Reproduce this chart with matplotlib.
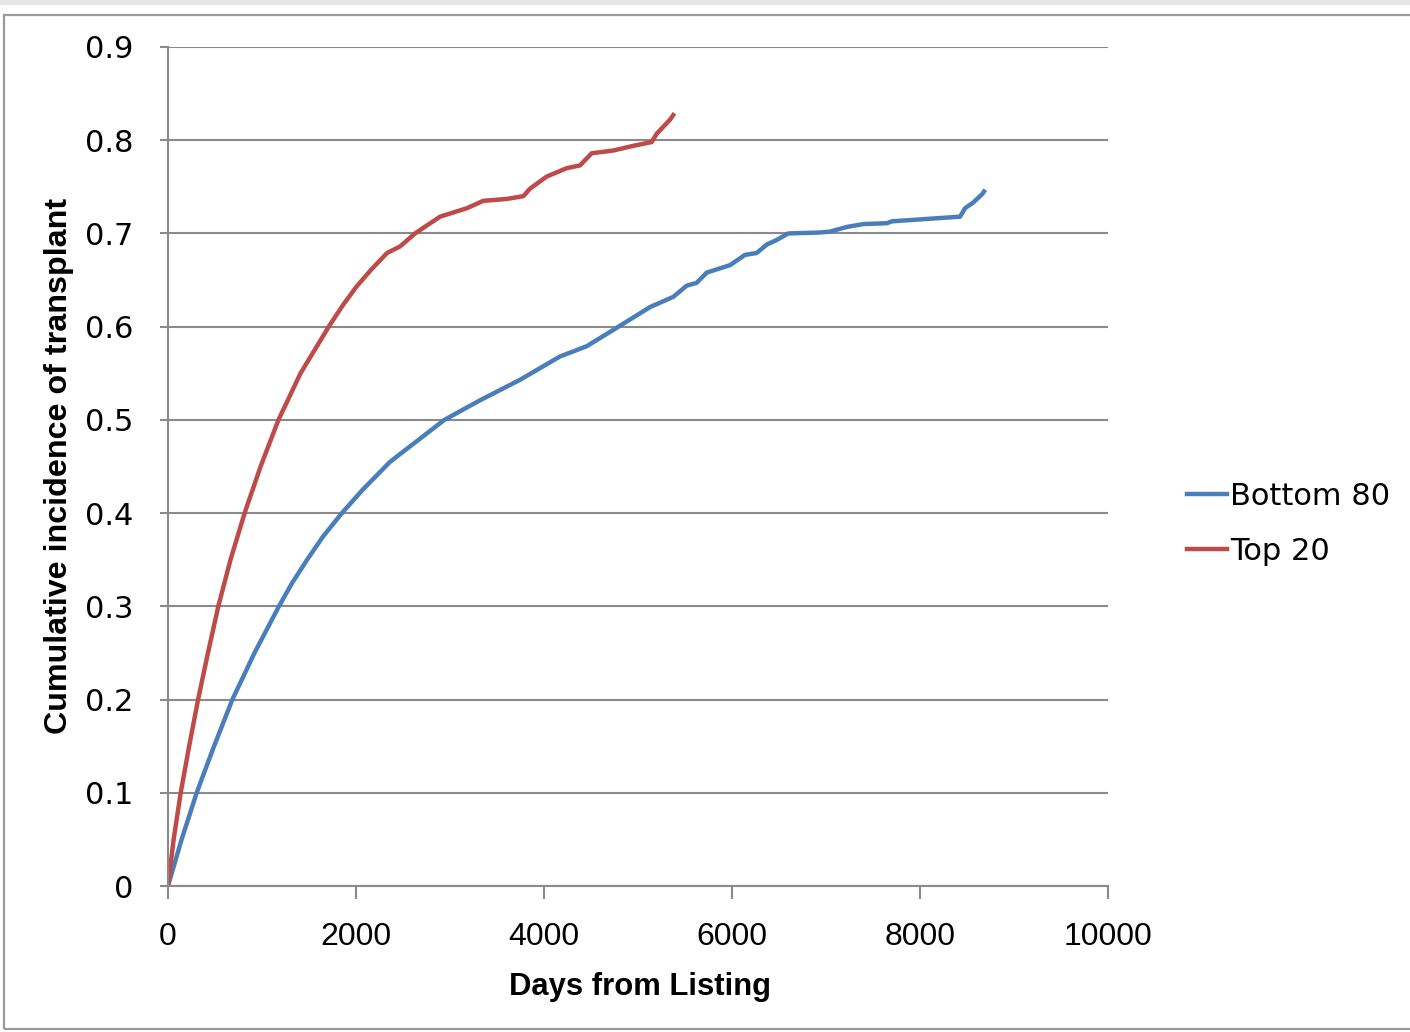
import matplotlib.pyplot as plt
from matplotlib.lines import Line2D
from matplotlib.patches import Rectangle

# cumulative incidence curves, days from listing vs. fraction transplanted
top20_days = [0, 60, 135, 225, 320, 425, 535, 665, 815, 985, 1175, 1410, 1710,
              1860, 2005, 2160, 2330, 2468, 2628, 2894, 3177, 3355, 3603, 3780,
              3851, 4028, 4241, 4383, 4507, 4738, 4950, 5145, 5199, 5340, 5375]
top20_ci = [0, 0.05, 0.10, 0.15, 0.20, 0.25, 0.30, 0.35, 0.40, 0.45, 0.50, 0.55,
            0.60, 0.623, 0.643, 0.661, 0.679, 0.686, 0.700, 0.718, 0.727, 0.735,
            0.737, 0.740, 0.748, 0.761, 0.770, 0.773, 0.786, 0.789, 0.794, 0.798,
            0.807, 0.822, 0.827]

bottom80_days = [0, 145, 305, 490, 685, 920, 1180, 1320, 1480, 1650, 1850, 2070,
                 2362, 2940, 3319, 3745, 4170, 4454, 4809, 5128, 5376, 5518, 5624,
                 5731, 5979, 6138, 6262, 6369, 6475, 6599, 6936, 7043, 7223, 7394,
                 7649, 7702, 8426, 8479, 8564, 8660, 8681]
bottom80_ci = [0, 0.05, 0.10, 0.15, 0.20, 0.25, 0.30, 0.325, 0.35, 0.375, 0.40,
               0.425, 0.455, 0.50, 0.521, 0.543, 0.568, 0.579, 0.601, 0.621, 0.632,
               0.644, 0.647, 0.658, 0.666, 0.677, 0.679, 0.688, 0.693, 0.700, 0.701,
               0.702, 0.707, 0.710, 0.711, 0.713, 0.718, 0.727, 0.733, 0.742, 0.745]

x_ticks = [0, 2000, 4000, 6000, 8000, 10000]
y_ticks = [0, 0.1, 0.2, 0.3, 0.4, 0.5, 0.6, 0.7, 0.8, 0.9]
y_labels = ["0", "0.1", "0.2", "0.3", "0.4", "0.5", "0.6", "0.7", "0.8", "0.9"]

W, H = 1410, 1032
fig = plt.figure(figsize=(W / 100, H / 100), dpi=100, facecolor="white")

# window-like frame around the chart
fig.add_artist(Rectangle((0, 1 - 5 / H), 1, 5 / H, transform=fig.transFigure,
                         facecolor="#e6e6e6", edgecolor="none"))
fig.add_artist(Rectangle((3.5 / W, 3 / H), 1.2, 1 - 18 / H, transform=fig.transFigure,
                         facecolor="none", edgecolor="#9a9a9a", lw=1.6))

ax = fig.add_axes([168 / W, 1 - 886 / H, 940 / W, 839 / H])

blue = "#4a7ebb"
red = "#be4b48"
ax.plot(bottom80_days, bottom80_ci, color=blue, lw=3.2, solid_joinstyle="round",
        label="Bottom 80")
ax.plot(top20_days, top20_ci, color=red, lw=3.2, solid_joinstyle="round",
        label="Top 20")

ax.set_xlim(0, 10000)
ax.set_ylim(0, 0.9)
ax.set_xticks(x_ticks)
ax.set_xticklabels([str(v) for v in x_ticks], family="Liberation Sans", fontsize=23)
ax.set_yticks(y_ticks)
ax.set_yticklabels(y_labels, family="DejaVu Sans", fontsize=22)

grid_c = "#8a8a8a"
ax.yaxis.grid(True, color=grid_c, lw=1.5)
ax.set_axisbelow(True)
for side in ("top", "right"):
    ax.spines[side].set_visible(False)
for side in ("left", "bottom"):
    ax.spines[side].set_color(grid_c)
    ax.spines[side].set_linewidth(1.5)
ax.tick_params(axis="y", direction="out", length=6, width=1.5, color=grid_c, pad=19)
ax.tick_params(axis="x", direction="out", length=9, width=1.5, color=grid_c, pad=17)

fig.text(640 / W, 1 - 987 / H, "Days from Listing", ha="center", va="center",
         family="Liberation Sans", weight="bold", fontsize=22.3)
fig.text(59 / W, 1 - 466 / H, "Cumulative incidence of transplant", ha="center",
         va="center", rotation=90, family="Liberation Sans", weight="bold",
         fontsize=23.2)

handles = [Line2D([], [], color=blue, lw=3.2), Line2D([], [], color=red, lw=3.2)]
fig.legend(handles, ["Bottom 80", "Top 20"], loc="center left",
           bbox_to_anchor=(1187 / W, 1 - 524 / H), frameon=False,
           prop={"family": "DejaVu Sans", "size": 22}, handlelength=1.3,
           handletextpad=0.12, labelspacing=0.85, borderaxespad=0, borderpad=0)

fig.savefig("out.png", dpi=100, facecolor="white")
